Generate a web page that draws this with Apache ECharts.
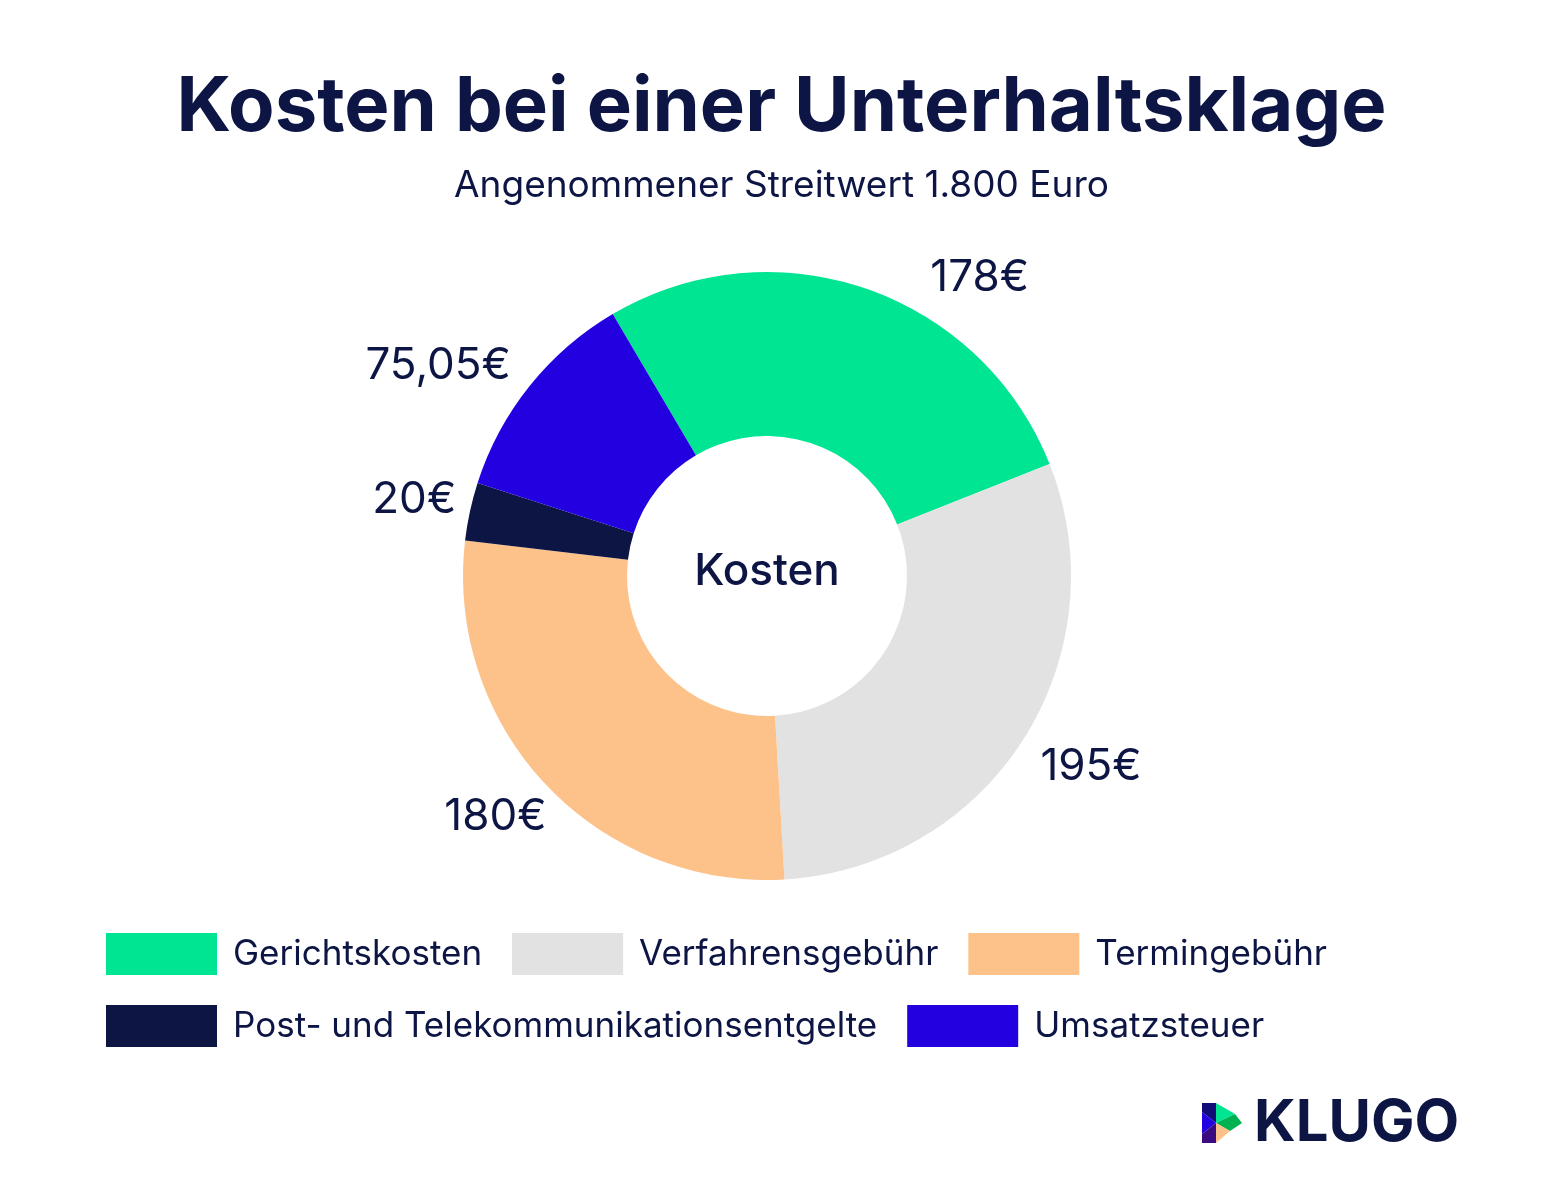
<!DOCTYPE html>
<html>
<head>
<meta charset="utf-8">
<script src="https://cdn.jsdelivr.net/npm/echarts@6/dist/echarts.min.js"></script>
<style>
  html, body { margin: 0; padding: 0; background: #fff; }
  #chart { width: 1563px; height: 1203px; }
</style>
</head>
<body>
<div id="chart"></div>
<script>
// Daten
const categories = ['Gerichtskosten', 'Verfahrensgebühr', 'Termingebühr', 'Post- und Telekommunikationsentgelte', 'Umsatzsteuer']
const values = [178, 195, 180, 20, 75.05]
const valueLabels = ['178€', '195€', '180€', '20€', '75,05€']
const colors = ['#00e592', '#e2e2e2', '#fdc289', '#0d1544', '#2200e0']

const navy = '#0d1544'
const font = 'Inter, "Open Sans", sans-serif'

// Abstand der Beschriftungen (labelLine length / length2)
const labelLen = [11, 50, 47, 56, 33]
const labelLen2 = [61, -25, -35, -41, -7]

const chart = echarts.init(document.getElementById('chart'), null, { renderer: 'canvas' })

const option = {
  backgroundColor: '#fff',
  color: colors,
  textStyle: { fontFamily: font, color: navy },
  title: [
    {
      text: 'Kosten bei einer Unterhaltsklage',
      left: 'center',
      top: 70,
      padding: 0,
      textStyle: { fontSize: 76, fontWeight: 'bold', color: navy, fontFamily: font }
    },
    {
      text: 'Angenommener Streitwert 1.800 Euro',
      left: 'center',
      top: 167,
      padding: 0,
      textStyle: { fontSize: 37, fontWeight: 'normal', color: navy, fontFamily: font }
    },
    {
      text: 'Kosten',
      left: 767,
      textAlign: 'center',
      top: 550,
      padding: 0,
      textStyle: { fontSize: 44, fontWeight: 500, color: navy, fontFamily: font }
    }
  ],
  legend: {
    left: 106,
    top: 933,
    width: 1300,
    padding: 0,
    itemWidth: 111,
    itemHeight: 42,
    itemGap: 30,
    icon: 'rect',
    selectedMode: false,
    data: categories,
    textStyle: { fontSize: 35, color: navy, fontFamily: font, padding: [3, 0, 0, 11] }
  },
  series: [{
    type: 'pie',
    center: [767, 576],
    radius: [140, 304],
    startAngle: 120.5,
    clockwise: true,
    avoidLabelOverlap: false,
    emphasis: { disabled: true },
    label: {
      show: true,
      position: 'outside',
      distanceToLabelLine: 0,
      fontSize: 44,
      color: navy,
      fontFamily: font,
      formatter: p => valueLabels[p.dataIndex]
    },
    labelLine: { show: false },
    data: categories.map((name, i) => ({
      name: name,
      value: values[i],
      labelLine: { show: false, length: labelLen[i], length2: labelLen2[i] }
    }))
  }],
  graphic: [
    // KLUGO Logo
    { type: 'polygon', shape: { points: [[1202, 1103], [1216, 1103], [1216, 1123], [1202, 1112]] }, style: { fill: '#100c78' } },
    { type: 'polygon', shape: { points: [[1202, 1112], [1216, 1123], [1202, 1134]] }, style: { fill: '#2200e0' } },
    { type: 'polygon', shape: { points: [[1202, 1134], [1216, 1123], [1216, 1143], [1202, 1143]] }, style: { fill: '#3a0a80' } },
    { type: 'polygon', shape: { points: [[1216, 1103], [1235, 1114], [1216, 1123]] }, style: { fill: '#00e592' } },
    { type: 'polygon', shape: { points: [[1235, 1114], [1242, 1123], [1230, 1131], [1216, 1123]] }, style: { fill: '#00b152' } },
    { type: 'polygon', shape: { points: [[1216, 1123], [1230, 1131], [1216, 1143]] }, style: { fill: '#fdc289' } },
    {
      type: 'text',
      left: 1254,
      top: 1095,
      style: { text: 'KLUGO', font: 'bold 58px ' + font, fill: navy }
    }
  ]
}

chart.setOption(option)
</script>
</body>
</html>
